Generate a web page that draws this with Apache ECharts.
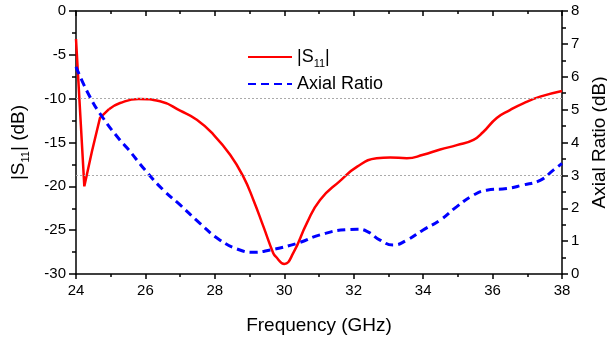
<!DOCTYPE html>
<html>
<head>
<meta charset="utf-8">
<script src="https://cdn.jsdelivr.net/npm/echarts@6/dist/echarts.min.js"></script>
<style>html,body{margin:0;padding:0;background:#fff;}#c{width:607px;height:341px;}</style>
</head>
<body>
<div id="c"></div>
<script>
var s11Freq = [24.0, 24.24, 24.46, 24.69, 24.95, 25.27, 25.8, 26.42, 27.0, 27.48, 27.96, 28.44, 28.82, 29.11, 29.40, 29.68, 29.75, 30.0, 30.26, 30.65, 31.03, 31.6, 32.1, 32.66, 33.05, 33.53, 34.0, 34.49, 34.97, 35.45, 35.73, 36.12, 36.5, 36.9, 37.37, 38.0];
var s11Vals = [-3.2, -20.0, -16.0, -12.2, -11.2, -10.5, -10.03, -10.3, -11.37, -12.4, -14.1, -16.4, -18.9, -21.55, -24.6, -27.6, -28.0, -28.85, -27.6, -24.2, -21.55, -19.4, -17.75, -16.8, -16.7, -16.8, -16.4, -15.8, -15.3, -14.7, -13.8, -12.2, -11.3, -10.5, -9.77, -9.12];
var s11SharpEnd = 4; // points 0..4 form the sharp notch near 24.2 GHz
var arFreq = [24.0, 24.4, 24.79, 25.27, 25.5, 26.0, 26.5, 27.0, 27.57, 28.15, 28.72, 29.11, 29.59, 30.36, 31.03, 31.8, 32.1, 32.38, 32.76, 33.14, 33.53, 34.0, 34.49, 34.97, 35.45, 35.83, 36.41, 36.85, 37.37, 37.75, 38.0];
var arVals = [6.3, 5.39, 4.73, 4.07, 3.8, 3.15, 2.57, 2.10, 1.54, 1.03, 0.73, 0.66, 0.73, 0.93, 1.19, 1.35, 1.36, 1.3, 1.03, 0.88, 1.03, 1.34, 1.64, 2.05, 2.4, 2.55, 2.6, 2.7, 2.85, 3.16, 3.36];
var xTicks = {min: 24, max: 38, interval: 2};
var leftTicks = {min: -30, max: 0, interval: 5};
var rightTicks = {min: 0, max: 8, interval: 1};
var refS11 = -10;
var refAR = 3;

function zip(a, b) { return a.map(function (v, i) { return [v, b[i]]; }); }
var s11All = zip(s11Freq, s11Vals);

var FONT = 'Liberation Sans, Arial, sans-serif';
var axisLine = {show: true, onZero: false, lineStyle: {color: '#000', width: 1.5}};
var subStyle = {fontFamily: FONT, fontSize: 11, color: '#000', lineHeight: 11, verticalAlign: 'bottom'};
var redLine = {color: '#ff0000', width: 2.5};
var chart = echarts.init(document.getElementById('c'), null, {renderer: 'canvas'});
chart.setOption({
  animation: false,
  backgroundColor: '#fff',
  grid: {left: 76, right: 45, top: 11, bottom: 67, containLabel: false, outerBoundsMode: 'none'},
  legend: {
    orient: 'vertical', left: 242, top: 40, itemWidth: 44, itemHeight: 14, itemGap: 3,
    itemStyle: {opacity: 0},
    textStyle: {fontFamily: FONT, fontSize: 18, color: '#000', lineHeight: 24,
      rich: {sub: subStyle}},
    formatter: function (n) { return n === 'S11' ? '|S{sub|11}|' : n; },
    data: ['S11', 'Axial Ratio']
  },
  xAxis: [{
    type: 'value', position: 'bottom', min: xTicks.min, max: xTicks.max, interval: xTicks.interval,
    axisLine: axisLine,
    axisTick: {show: true, inside: false, length: 5, lineStyle: {color: '#000', width: 1.5}},
    minorTick: {show: true, splitNumber: 2, length: 3, lineStyle: {color: '#000', width: 1.5}},
    axisLabel: {fontFamily: FONT, fontSize: 15, color: '#000', margin: 9},
    splitLine: {show: false},
    name: 'Frequency (GHz)', nameLocation: 'middle', nameGap: 42,
    nameTextStyle: {fontFamily: FONT, fontSize: 19, color: '#000'}
  }, {
    type: 'value', position: 'top', min: xTicks.min, max: xTicks.max, interval: xTicks.interval,
    axisLine: axisLine,
    axisTick: {show: true, inside: true, length: 5, lineStyle: {color: '#000', width: 1.5}},
    minorTick: {show: true, splitNumber: 2, length: 3, lineStyle: {color: '#000', width: 1.5}},
    axisLabel: {show: false}, splitLine: {show: false}
  }],
  yAxis: [{
    type: 'value', position: 'left', min: leftTicks.min, max: leftTicks.max, interval: leftTicks.interval,
    axisLine: axisLine,
    axisTick: {show: true, inside: false, length: 7, lineStyle: {color: '#000', width: 1.5}},
    minorTick: {show: true, splitNumber: 2, length: 4, lineStyle: {color: '#000', width: 1.5}},
    axisLabel: {fontFamily: FONT, fontSize: 15, color: '#000', margin: 10},
    splitLine: {show: false},
    name: '|S{sub|11}| (dB)', nameLocation: 'middle', nameGap: 45, nameRotate: 90,
    nameTextStyle: {fontFamily: FONT, fontSize: 19, color: '#000', lineHeight: 24,
      rich: {sub: subStyle}}
  }, {
    type: 'value', position: 'right', min: rightTicks.min, max: rightTicks.max, interval: rightTicks.interval,
    axisLine: axisLine,
    axisTick: {show: true, inside: false, length: 6, lineStyle: {color: '#000', width: 1.5}},
    minorTick: {show: true, splitNumber: 2, length: 4, lineStyle: {color: '#000', width: 1.5}},
    axisLabel: {fontFamily: FONT, fontSize: 15, color: '#000', margin: 9},
    splitLine: {show: false},
    name: 'Axial Ratio (dB)', nameLocation: 'middle', nameGap: 25, nameRotate: 90,
    nameTextStyle: {fontFamily: FONT, fontSize: 19, color: '#000'}
  }],
  series: [{
    name: 'S11', type: 'line', xAxisIndex: 0, yAxisIndex: 0, data: s11All.slice(0, s11SharpEnd + 1),
    symbol: 'none', smooth: false,
    lineStyle: redLine, itemStyle: {color: '#ff0000'}
  }, {
    name: 'S11', type: 'line', xAxisIndex: 0, yAxisIndex: 0, data: s11All.slice(s11SharpEnd),
    symbol: 'none', smooth: 0.5,
    lineStyle: redLine, itemStyle: {color: '#ff0000'},
    markLine: {silent: true, symbol: 'none', label: {show: false},
      lineStyle: {color: '#aaa', type: [2, 2], width: 1}, data: [{yAxis: refS11}]}
  }, {
    name: 'Axial Ratio', type: 'line', xAxisIndex: 0, yAxisIndex: 1, data: zip(arFreq, arVals),
    symbol: 'none', smooth: 0.5,
    lineStyle: {color: '#0000ff', width: 3, type: [8, 5]}, itemStyle: {color: '#0000ff'},
    markLine: {silent: true, symbol: 'none', label: {show: false},
      lineStyle: {color: '#aaa', type: [2, 2], width: 1}, data: [{yAxis: refAR}]}
  }]
});
</script>
</body>
</html>
